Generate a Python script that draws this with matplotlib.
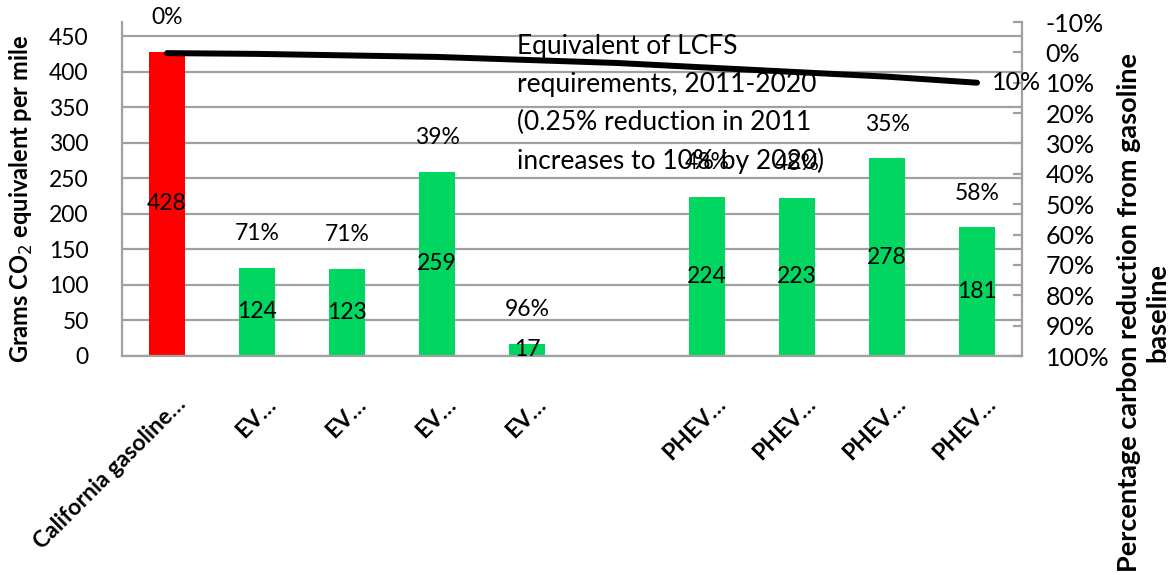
import numpy as np
import matplotlib.pyplot as plt
from matplotlib import transforms

plt.rcParams['font.family'] = ['Lato', 'DejaVu Sans']

categories = ['California gasoline…', 'EV…', 'EV…', 'EV…', 'EV…', '',
              'PHEV…', 'PHEV…', 'PHEV…', 'PHEV…']
grams = [428, 124, 123, 259, 17, np.nan, 224, 223, 278, 181]
reduction_labels = ['0%', '71%', '71%', '39%', '96%', '', '48%', '48%', '35%', '58%']
# LCFS schedule 2011-2020, fraction reduction
lcfs = [0.0025, 0.005, 0.01, 0.015, 0.025, 0.035, 0.05, 0.065, 0.08, 0.10]

RED = '#FF0000'
GREEN = '#00D660'
GRID = '#A0A0A0'
FS = 16.5

fig = plt.figure(figsize=(11.73, 5.75), dpi=100)
ax = fig.add_axes([122 / 1173, 1 - 356 / 575, 900 / 1173, 334 / 575])
x = np.arange(len(categories))
colors = [RED] + [GREEN] * (len(categories) - 1)

ax.bar(x, grams, width=0.4, color=colors, zorder=2)
ax.set_xlim(-0.5, len(categories) - 0.5)
ax.set_ylim(0, 470)
ax.set_yticks(np.arange(0, 451, 50))
ax.yaxis.grid(True, color=GRID, lw=1.6, zorder=0)
ax.set_axisbelow(True)
for s in ['top', 'right']:
    ax.spines[s].set_visible(False)
for s in ['left', 'bottom']:
    ax.spines[s].set_color(GRID)
    ax.spines[s].set_linewidth(1.6)
ax.tick_params(axis='y', length=0, pad=24, labelsize=FS)
ax.tick_params(axis='x', length=0, pad=4)

ax.set_xticks(x)
ax.set_xticklabels(categories, rotation=45, ha='right', rotation_mode='anchor',
                   fontsize=16.5, fontweight='bold')
shift = transforms.ScaledTranslation(8 / 100, -32 / 100, fig.dpi_scale_trans)
for lab in ax.get_xticklabels():
    lab.set_transform(lab.get_transform() + shift)

# value inside each bar, reduction label above it
for xi, v, r in zip(x, grams, reduction_labels):
    if np.isnan(v):
        continue
    ax.text(xi, v / 2, f'{v:g}', ha='center', va='center', fontsize=FS, zorder=4)
    ax.annotate(r, (xi, v), xytext=(0, 24.5), textcoords='offset points',
                ha='center', va='center', fontsize=FS, zorder=4)

# secondary axis: percentage reduction, inverted
ax2 = ax.twinx()
ax2.set_ylim(1.0, -0.1)
ax2.set_yticks(np.arange(-0.1, 1.001, 0.1))
ax2.set_yticklabels([f'{t:.0f}%' for t in np.arange(-10, 101, 10)])
for s in ['top', 'left', 'bottom']:
    ax2.spines[s].set_visible(False)
ax2.spines['right'].set_color(GRID)
ax2.spines['right'].set_linewidth(1.6)
ax2.tick_params(axis='y', direction='in', length=6.5, width=1.6, color=GRID,
                pad=17, labelsize=18)

ax2.plot(x, lcfs, color='black', lw=4.3, solid_capstyle='round', zorder=5)
ax2.annotate(f'{lcfs[-1] * 100:.0f}%', (x[-1], lcfs[-1]), xytext=(11, 0),
             textcoords='offset points', ha='left', va='center', fontsize=18)

ax2.text(3.89, 0.170, 'Equivalent of LCFS\nrequirements, 2011-2020\n'
         '(0.25% reduction in 2011\nincreases to 10% by 2020)',
         ha='left', va='center', fontsize=19, linespacing=1.64, zorder=3)

fig.text(21 / 1173, 1 - 199 / 575, 'Grams CO$_2$ equivalent per mile',
         rotation=90, ha='center', va='center', fontsize=17, fontweight='bold')
fig.text(1143 / 1173, 1 - 312 / 575,
         'Percentage carbon reduction from gasoline\nbaseline',
         rotation=90, ha='center', va='center', multialignment='center',
         fontsize=19.5, fontweight='bold')

fig.savefig('out.png', dpi=100)
